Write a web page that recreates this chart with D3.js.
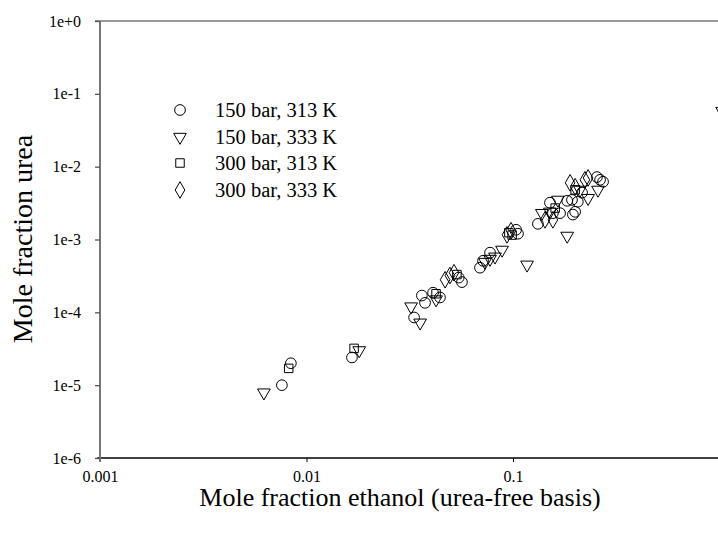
<!DOCTYPE html>
<html><head><meta charset="utf-8">
<script src="https://cdn.jsdelivr.net/npm/d3@7"></script>
<style>body{margin:0;background:#fff}svg{display:block}svg text{font-family:"Liberation Serif","Times New Roman",serif !important;fill:#000}</style>
</head><body><svg id="c" width="718" height="538"></svg>
<script>
const seriesNames = ["150 bar, 313 K","150 bar, 333 K","300 bar, 313 K","300 bar, 333 K"];
const symbols = ["circle","triangle","square","diamond"];
// 150 bar, 313 K
const s1x = [0.0076,0.0084,0.0166,0.0332,0.0362,0.0375,0.041,0.0443,0.0546,0.0566,0.0692,0.0716,0.0774,0.1035,0.1057,0.132,0.151,0.156,0.169,0.183,0.193,0.195,0.200,0.206,0.216,0.255,0.264,0.273];
const s1y = [1.0e-5,2.0e-5,2.4e-5,8.5e-5,1.7e-4,1.35e-4,1.86e-4,1.6e-4,3.0e-4,2.6e-4,4.1e-4,5.1e-4,6.6e-4,1.36e-3,1.2e-3,1.64e-3,3.2e-3,2.3e-3,2.3e-3,3.4e-3,3.5e-3,2.2e-3,2.4e-3,3.3e-3,4.4e-3,7.2e-3,6.6e-3,6.2e-3];
// 150 bar, 333 K
const s2x = [0.00622,0.018,0.0321,0.0355,0.0424,0.0732,0.0774,0.0818,0.0885,0.117,0.138,0.151,0.165,0.183,0.211,0.231,0.258,1.03];
const s2y = [7.9e-6,3.0e-5,1.2e-4,7.2e-5,1.5e-4,4.9e-4,5.4e-4,5.8e-4,7.2e-4,4.5e-4,2.3e-3,2.4e-3,3.5e-3,1.12e-3,4.8e-3,3.7e-3,4.8e-3,0.058];
// 300 bar, 313 K
const s3x = [0.0082,0.017,0.0424,0.0535,0.0955,0.099,0.160,0.200];
const s3y = [1.7e-5,3.2e-5,1.8e-4,3.3e-4,1.24e-3,1.15e-3,2.7e-3,4.8e-3];
// 300 bar, 333 K
const s4x = [0.0469,0.0495,0.0518,0.0935,0.0978,0.143,0.156,0.189,0.200,0.223,0.231];
const s4y = [2.8e-4,3.2e-4,3.5e-4,1.16e-3,1.32e-3,1.86e-3,1.86e-3,6.0e-3,5.3e-3,6.6e-3,7.0e-3];
const xTicks = [0.001,0.01,0.1];
const xTickLabels = ["0.001","0.01","0.1"];
const yTicks = [1e-6,1e-5,1e-4,1e-3,1e-2,1e-1,1];
const yTickLabels = ["1e-6","1e-5","1e-4","1e-3","1e-2","1e-1","1e+0"];

const FONT = '"Liberation Serif","Times New Roman",serif';
const svg = d3.select("#c");
const x = d3.scaleLog().domain([0.001,1]).range([100,719.5]);
const y = d3.scaleLog().domain([1e-6,1]).range([458,21]);

// top frame line
svg.append("line").attr("x1",95).attr("x2",720).attr("y1",y(1)).attr("y2",y(1)).attr("stroke","#777").attr("stroke-width",1.5);

// x axis
const gx = svg.append("g").attr("transform","translate(0,458)")
  .call(d3.axisBottom(x).tickValues(xTicks).tickFormat((d,i)=>xTickLabels[i]).tickSize(4).tickPadding(9));
gx.attr("font-family",FONT).attr("font-size",16);
gx.select(".domain").attr("d","M97,0H720").attr("stroke","#000").attr("stroke-width",1.3);
gx.selectAll(".tick line").attr("stroke","#000");
gx.selectAll("text").style("font-family",FONT).style("font-size","16px").attr("fill","#000");

// y axis
const gy = svg.append("g").attr("transform","translate(100,0)")
  .call(d3.axisLeft(y).tickValues(yTicks).tickFormat((d,i)=>yTickLabels[i]).tickSize(5).tickPadding(14));
gy.attr("font-family",FONT).attr("font-size",16);
gy.select(".domain").attr("d","M0,"+y(1)+"V"+(y(1e-6)+4)).attr("stroke","#777").attr("stroke-width",2);
gy.selectAll(".tick line").attr("stroke","#555").attr("stroke-width",1.3);
gy.selectAll("text").style("font-family",FONT).style("font-size","16px").attr("fill","#000");

const symType = {circle:d3.symbolCircle, triangle:d3.symbolTriangle, square:d3.symbolSquare, diamond:d3.symbolDiamond};
const symSize = {circle:90, triangle:70, square:72, diamond:80};
function marker(sel, s){
  const p = d3.symbol().type(symType[s]).size(symSize[s]);
  sel.attr("d",p).attr("fill","none").attr("stroke","#000").attr("stroke-width",1);
}
const sx = [s1x,s2x,s3x,s4x], sy=[s1y,s2y,s3y,s4y];
sx.forEach((xs,k)=>{
  const data = xs.map((v,i)=>[v,sy[k][i]]);
  svg.append("g").selectAll("path").data(data).join("path")
    .attr("transform",d=>"translate("+x(d[0])+","+y(d[1])+")"+(symbols[k]==="triangle"?" rotate(180)":""))
    .call(marker, symbols[k]);
});

// legend
const legY = [110,137,163,190];
seriesNames.forEach((n,k)=>{
  svg.append("path").attr("transform","translate(180,"+legY[k]+")"+(symbols[k]==="triangle"?" rotate(180)":""))
    .call(marker, symbols[k]);
  svg.append("text").attr("x",215).attr("y",legY[k]+7).style("font-family",FONT).style("font-size","20.5px").text(n);
});

// axis titles
svg.append("text").attr("x",400).attr("y",506).attr("text-anchor","middle").style("font-family",FONT).style("font-size","26px")
  .text("Mole fraction ethanol (urea-free basis)");
svg.append("text").attr("transform","translate(32,239) rotate(-90)").attr("text-anchor","middle").style("font-family",FONT).style("font-size","28px")
  .text("Mole fraction urea");
</script></body></html>
